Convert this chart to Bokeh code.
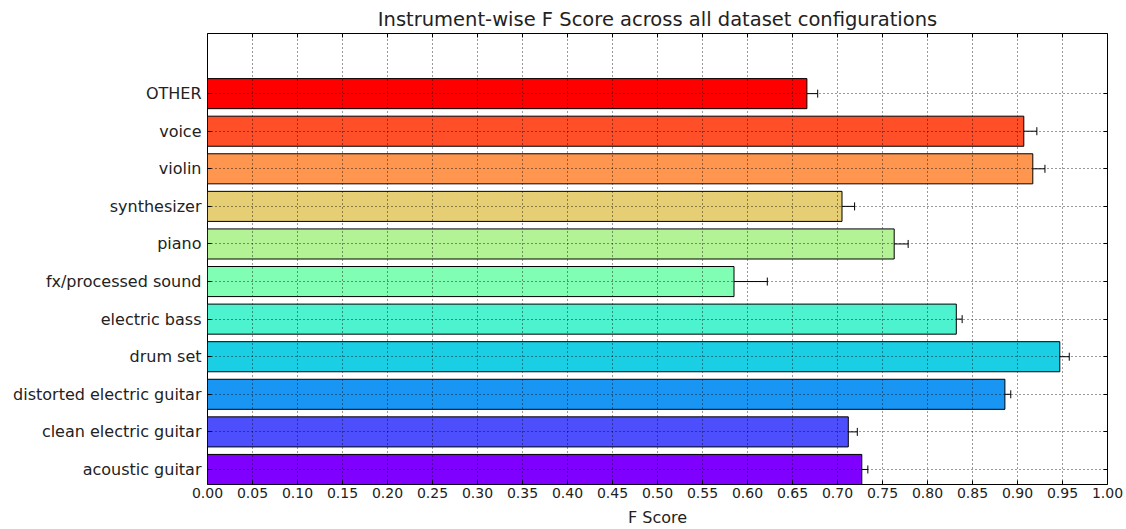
from bokeh.plotting import figure
from bokeh.models import (Range1d, FixedTicker, NumeralTickFormatter, Whisker,
                          ColumnDataSource, LinearAxis)
from bokeh.embed import file_html
from bokeh.resources import INLINE

instruments = ["acoustic guitar", "clean electric guitar", "distorted electric guitar",
               "drum set", "electric bass", "fx/processed sound", "piano",
               "synthesizer", "violin", "voice", "OTHER"]
f_scores = [0.727, 0.712, 0.886, 0.947, 0.832, 0.585, 0.763, 0.705, 0.917, 0.907, 0.666]
errors = [0.0067, 0.010, 0.0065, 0.0105, 0.0065, 0.037, 0.0155, 0.014, 0.0135, 0.0145, 0.012]
colors = ["#8000ff", "#4d4ffc", "#1996f3", "#1acee3", "#4df3ce", "#80ffb4",
          "#b3f396", "#e6ce74", "#ff964f", "#ff4f28", "#ff0000"]
x_ticks = [round(0.05 * k, 2) for k in range(21)]

FONT = "DejaVu Sans"
ypos = [i + 0.4 for i in range(len(instruments))]
src = ColumnDataSource(dict(
    y=ypos, v=f_scores, c=colors,
    lo=[v - e for v, e in zip(f_scores, errors)],
    hi=[v + e for v, e in zip(f_scores, errors)],
))

p = figure(width=1126, height=529, output_backend="svg", toolbar_location=None,
           x_range=Range1d(0, 1.0), y_range=Range1d(0, 12),
           min_border_left=207, min_border_right=19, min_border_top=33,
           min_border_bottom=45,
           title="Instrument-wise F Score across all dataset configurations")
p.title.align = "center"
p.title.text_font = FONT
p.title.text_font_size = "19.5px"
p.title.text_font_style = "normal"
p.title.text_color = "#222222"
p.title.offset = 0
p.title.standoff = 5

p.hbar(y="y", height=0.8, left=0, right="v", fill_color="c", line_color="black",
       line_width=1, source=src)
w = Whisker(base="y", lower="lo", upper="hi", dimension="width", source=src,
            line_color="black", line_width=1)
w.upper_head.size = 8
w.lower_head.size = 8
w.upper_head.line_color = "black"
w.lower_head.line_color = "black"
p.add_layout(w)

p.xaxis.ticker = FixedTicker(ticks=x_ticks)
p.xaxis.formatter = NumeralTickFormatter(format="0.00")
p.xaxis.axis_label = "F Score"
p.yaxis.ticker = FixedTicker(ticks=ypos)
p.yaxis.major_label_overrides = {y: name for y, name in zip(ypos, instruments)}

for ax in [p.xaxis[0], p.yaxis[0]]:
    ax.major_tick_in = 4
    ax.major_tick_out = 0
    ax.minor_tick_in = 0
    ax.minor_tick_out = 0
    ax.axis_line_color = None
    ax.major_tick_line_color = "black"
    ax.major_label_text_font = FONT
    ax.major_label_text_color = "#222222"
    ax.axis_label_text_font = FONT
    ax.axis_label_text_font_size = "16px"
    ax.axis_label_text_font_style = "normal"
    ax.axis_label_text_color = "#222222"
p.xaxis.major_label_text_font_size = "14px"
p.yaxis.major_label_text_font_size = "16px"
p.xaxis.major_label_standoff = 3
p.xaxis.axis_label_standoff = 7
p.yaxis.major_label_standoff = 6

top_ax = LinearAxis(ticker=FixedTicker(ticks=x_ticks), major_tick_in=4, major_tick_out=0,
                    minor_tick_in=0, minor_tick_out=0, axis_line_color=None,
                    major_label_overrides={t: "" for t in x_ticks},
                    major_label_text_font_size="1px", major_label_standoff=0)
right_ax = LinearAxis(ticker=FixedTicker(ticks=ypos), major_tick_in=4, major_tick_out=0,
                      minor_tick_in=0, minor_tick_out=0, axis_line_color=None,
                      major_label_overrides={t: "" for t in ypos},
                      major_label_text_font_size="1px", major_label_standoff=0)
p.add_layout(top_ax, "above")
p.add_layout(right_ax, "right")

p.xgrid.ticker = FixedTicker(ticks=x_ticks)
p.ygrid.ticker = FixedTicker(ticks=ypos)
p.grid.grid_line_color = "black"
p.grid.grid_line_dash = "1 3"
p.grid.grid_line_width = 1
p.grid.grid_line_alpha = 0.8
p.grid.level = "overlay"

p.outline_line_color = "black"
p.outline_line_width = 1
p.outline_line_alpha = 1
p.background_fill_color = "white"
p.border_fill_color = "white"

open("out.html", "w").write(file_html(p, INLINE))
